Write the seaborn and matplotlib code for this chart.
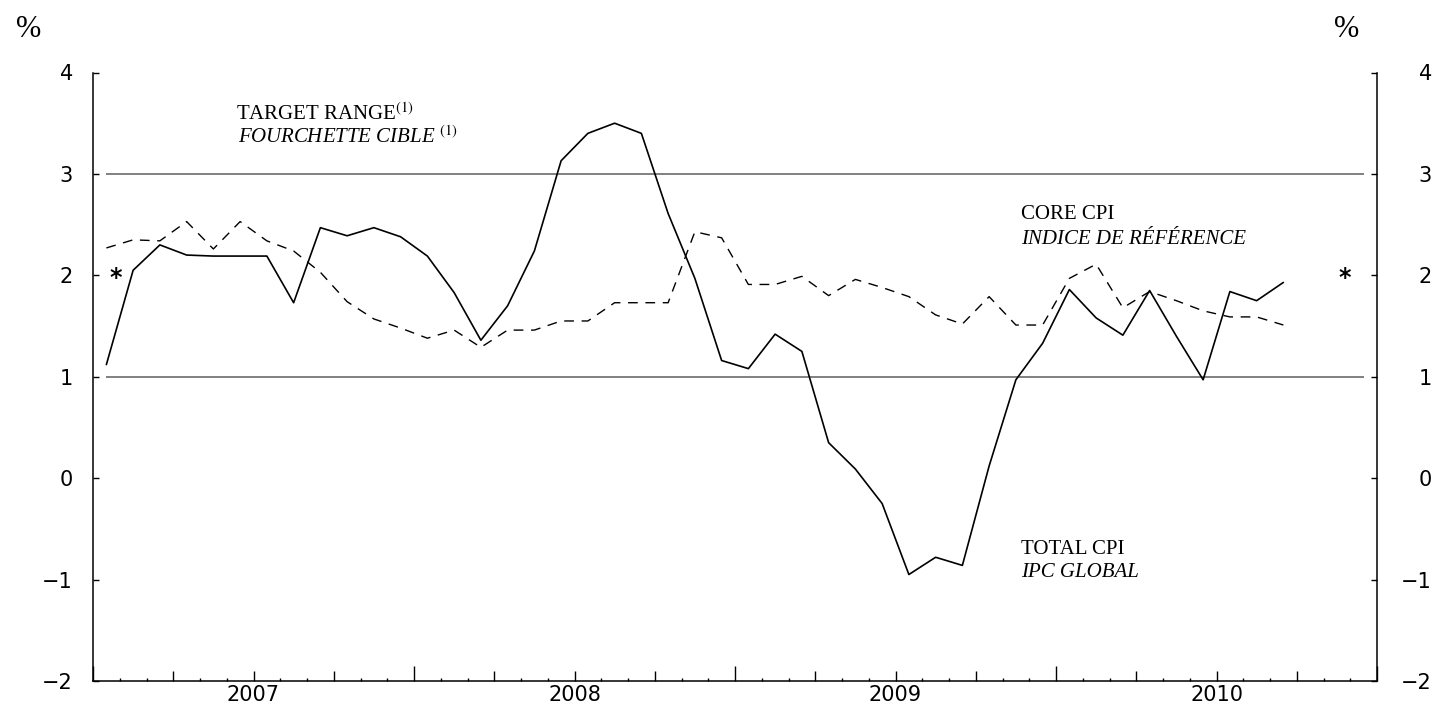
import numpy as np
import pandas as pd
import matplotlib
matplotlib.use("Agg")
import matplotlib.pyplot as plt
import seaborn as sns

# 12-month % change, monthly from Jan 2007 to Sep 2010
start_month = "2007-01"
total_cpi = [1.12, 2.05, 2.30, 2.20, 2.19, 2.19, 2.19, 1.73, 2.47, 2.39, 2.47, 2.38,
             2.19, 1.83, 1.36, 1.70, 2.24, 3.13, 3.40, 3.50, 3.40, 2.61, 1.97, 1.16,
             1.08, 1.42, 1.25, 0.35, 0.09, -0.25, -0.95, -0.78, -0.86, 0.12, 0.97, 1.33,
             1.86, 1.58, 1.41, 1.85, 1.40, 0.97, 1.84, 1.75, 1.93]
core_cpi = [2.27, 2.35, 2.34, 2.53, 2.26, 2.53, 2.34, 2.24, 2.03, 1.74, 1.57, 1.48,
            1.38, 1.46, 1.29, 1.46, 1.46, 1.55, 1.55, 1.73, 1.73, 1.73, 2.43, 2.37,
            1.91, 1.91, 1.99, 1.80, 1.96, 1.88, 1.79, 1.61, 1.52, 1.79, 1.51, 1.51,
            1.97, 2.11, 1.68, 1.84, 1.75, 1.65, 1.59, 1.59, 1.51]
years = ["2007", "2008", "2009", "2010"]
target_low = 1
target_high = 3
target_mid = 2
y_ticks = [-2, -1, 0, 1, 2, 3, 4]

months = pd.period_range(start_month, periods=len(total_cpi), freq="M")
df = pd.DataFrame({"month": np.arange(len(months)), "total": total_cpi, "core": core_cpi})
n_months = 12 * len(years)

sns.set_style("ticks")
plt.rcParams["font.family"] = ["DejaVu Sans"]
plt.rcParams["mathtext.fontset"] = "stix"
plt.rcParams["axes.linewidth"] = 1.1
plt.rcParams["axes.edgecolor"] = "black"
plt.rcParams["text.color"] = "black"
plt.rcParams["xtick.color"] = "black"
plt.rcParams["ytick.color"] = "black"

W, H = 1445, 706
fig = plt.figure(figsize=(W / 100, H / 100), dpi=100)
ax = fig.add_axes([93 / W, 1 - 681 / H, (1377 - 93) / W, (681 - 72.5) / H])

# target range lines
ax.hlines([target_low, target_high], 0, n_months - 1, color="#808080", lw=1.4, zorder=1)

sns.lineplot(data=df, x="month", y="total", color="black", lw=1.2, ax=ax, zorder=3)
sns.lineplot(data=df, x="month", y="core", color="black", lw=1.0,
             linestyle=(0, (7, 5.5)), ax=ax, zorder=3)

ax.set_xlim(-0.5, n_months - 0.5)
ax.set_ylim(-2, 4)
ax.set_xlabel("")
ax.set_ylabel("")
ax.spines[["top", "right"]].set_visible(False)

# x axis: monthly minor ticks, quarterly major ticks, longer at year ends
quarter_pos = np.arange(-0.5, n_months, 3)
labels = []
for p in quarter_pos:
    k = (p - 5.5) / 12
    labels.append(years[int(k)] if k == int(k) and 0 <= k < len(years) else "")
ax.set_xticks(quarter_pos)
ax.set_xticklabels(labels)
ax.set_xticks(np.arange(-0.5, n_months, 1), minor=True)
ax.tick_params(axis="x", which="major", direction="in", length=7.2, width=1,
               labelsize=15, pad=3)
ax.tick_params(axis="x", which="minor", direction="in", length=2.5, width=1)
for p, t in zip(quarter_pos, ax.xaxis.get_major_ticks()):
    if (p + 0.5) % 12 == 0:
        t.tick1line.set_markersize(10.8)

ax.set_yticks(y_ticks)
ax.tick_params(axis="y", direction="in", length=4.3, width=1, labelsize=15, pad=14.4)

ax2 = ax.twinx()
ax2.set_ylim(-2, 4)
ax2.set_yticks(y_ticks)
ax2.spines[["top", "left", "bottom"]].set_visible(False)
ax2.tick_params(axis="y", direction="in", length=4.3, width=1, labelsize=15, pad=39.6)
for lab in ax2.get_yticklabels():
    lab.set_horizontalalignment("right")

# stars at the 2% target midpoint
for xs in [0.34, n_months - 1.7]:
    ax.annotate("*", xy=(xs, target_mid + 0.04), xytext=(0, -10),
                textcoords="offset points", ha="center", va="baseline",
                fontsize=17, fontweight="bold")

serif = "Liberation Serif"
def ftext(x, y, s, size=15, **kw):
    fig.text(x / W, 1 - y / H, s, family=serif, fontsize=size, va="baseline", **kw)

ftext(16, 37, "%", size=22)
ftext(1334, 37, "%", size=22)
ftext(236, 120, "TARGET RANGE${}^{(1)}$")
ftext(238, 143, "FOURCHETTE CIBLE ${}^{(1)}$", style="italic")
ftext(1021, 219, "CORE CPI")
ftext(1021, 244, "INDICE DE RÉFÉRENCE", style="italic")
ftext(1021, 554, "TOTAL CPI")
ftext(1021, 577, "IPC GLOBAL", style="italic")

fig.savefig("out.png", dpi=100)
